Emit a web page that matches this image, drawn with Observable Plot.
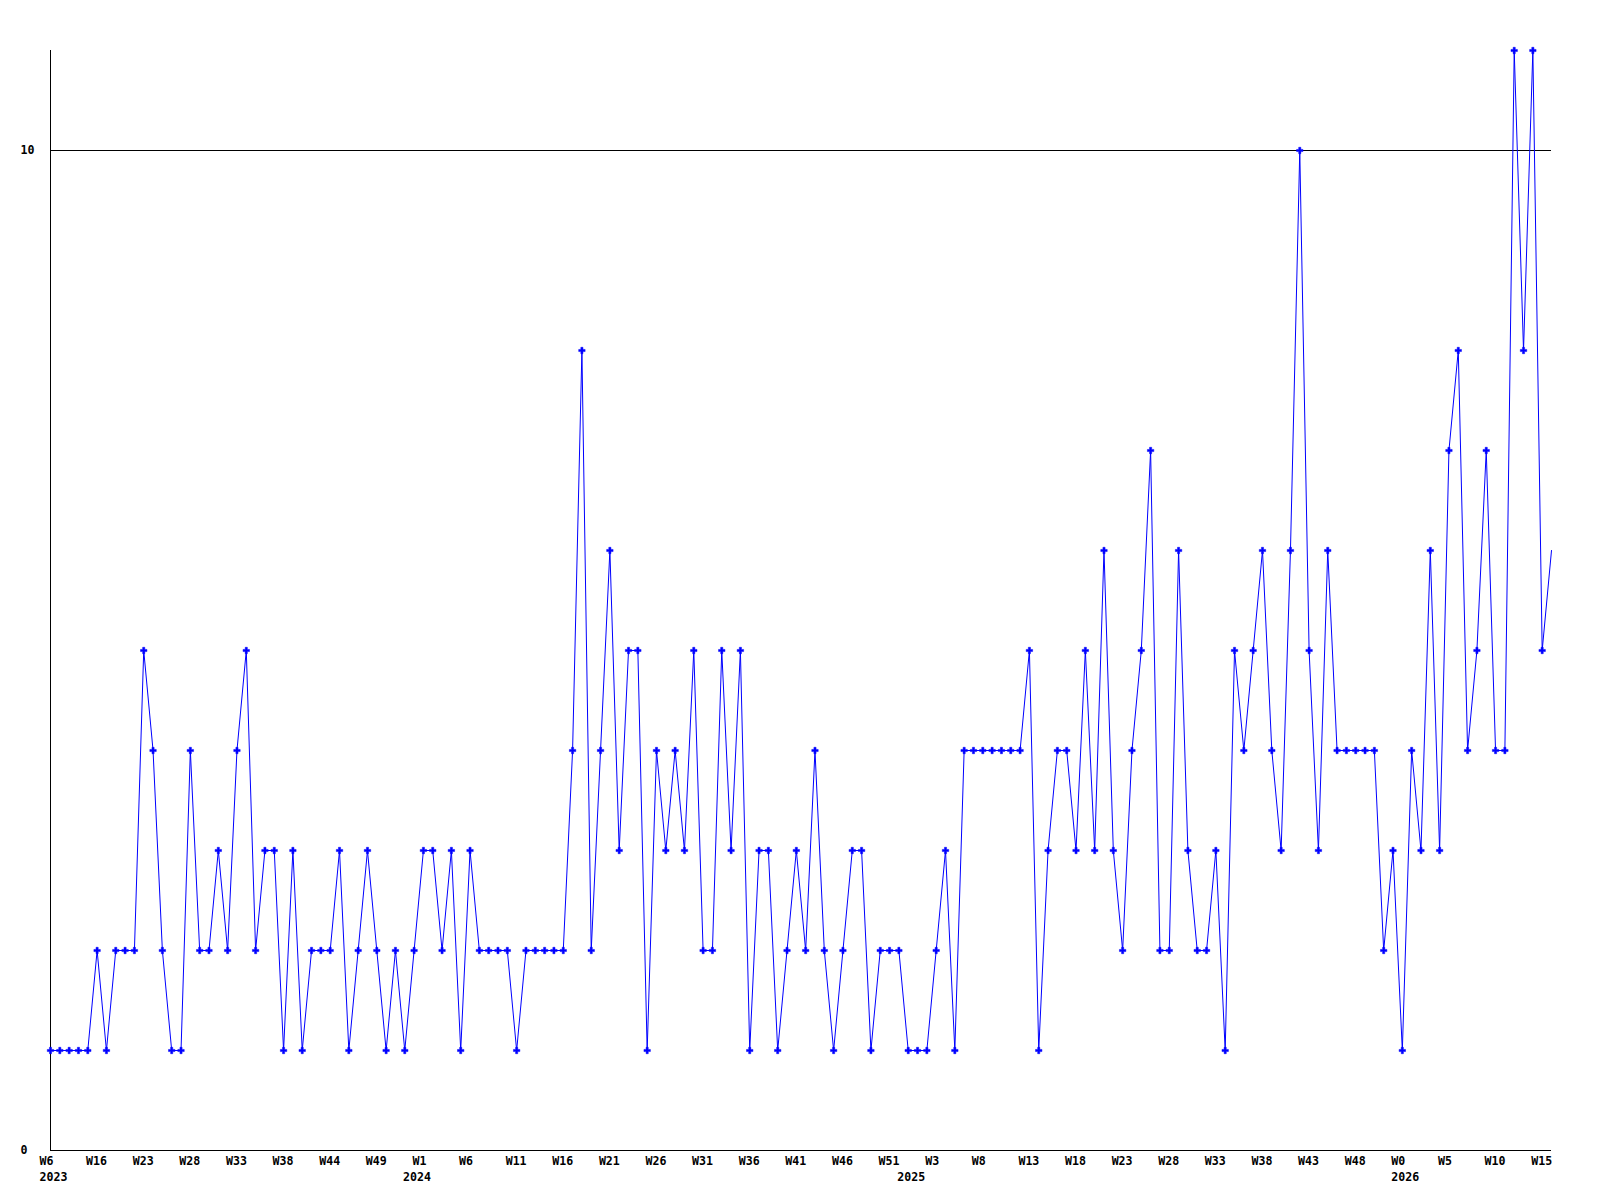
<!DOCTYPE html>
<html>
<head>
<meta charset="utf-8">
<script src="https://cdn.jsdelivr.net/npm/d3@7"></script>
<script src="https://cdn.jsdelivr.net/npm/@observablehq/plot@0.6"></script>
<style>
  html, body { margin: 0; padding: 0; background: #ffffff; }
</style>
</head>
<body>
<div id="chart"></div>
<script>
// Weekly counts (index 0 = W6 2023)
const values = [
  1,1,1,1,1,2,1,2,2,2,
  5,4,2,1,1,4,2,2,3,2,
  4,5,2,3,3,1,3,1,2,2,
  2,3,1,2,3,2,1,2,1,2,
  3,3,2,3,1,3,2,2,2,2,
  1,2,2,2,2,2,4,8,2,4,
  6,3,5,5,1,4,3,4,3,5,
  2,2,5,3,5,1,3,3,1,2,
  3,2,4,2,1,2,3,3,1,2,
  2,2,1,1,1,2,3,1,4,4,
  4,4,4,4,4,5,1,3,4,4,
  3,5,3,6,3,2,4,5,7,2,
  2,6,3,2,2,3,1,5,4,5,
  6,4,3,6,10,5,3,6,4,4,
  4,4,4,2,3,1,4,3,6,3,
  7,8,4,5,7,4,4,11,8,11,
  5,6
];

// X tick labels (one every 5 weeks)
const weekLabels = ["W6","W16","W23","W28","W33","W38","W44","W49","W1","W6","W11",
  "W16","W21","W26","W31","W36","W41","W46","W51","W3","W8","W13","W18","W23",
  "W28","W33","W38","W43","W48","W0","W5","W10","W15"];
const labelStep = 5;

// Year labels and the week index where each year starts
const years = ["2023","2024","2025","2026"];
const yearStart = [0, 39, 92, 145];

// Y tick labels
const yTicks = [0, 10];

const data = values.map((v, i) => ({i, v}));
const ticks = weekLabels.map((t, k) => ({i: k * labelStep, t}));
const yearRows = years.map((y, k) => ({i: yearStart[k], t: y}));

const font = "'DejaVu Sans Mono', monospace";

const chart = Plot.plot({
  width: 1600,
  height: 1200,
  marginLeft: 50,
  marginRight: 49,
  marginTop: 50,
  marginBottom: 50,
  x: {domain: [0, values.length - 1], axis: null},
  y: {domain: [0, 11], axis: null},
  style: {background: "#ffffff", fontFamily: font, fontSize: "11.6px", fontWeight: "bold", overflow: "visible"},
  marks: [
    Plot.ruleY([10], {stroke: "#000000", strokeWidth: 1, shapeRendering: "crispEdges"}),
    Plot.ruleX([0], {stroke: "#000000", strokeWidth: 1, shapeRendering: "crispEdges"}),
    Plot.ruleY([0], {stroke: "#000000", strokeWidth: 1, shapeRendering: "crispEdges"}),
    Plot.line(data, {x: "i", y: "v", stroke: "#0000ff", strokeWidth: 1}),
    Plot.dot(data.slice(0, -1), {x: "i", y: "v", symbol: "cross", r: 2.7, fill: "#0000ff", stroke: "#0000ff", strokeWidth: 0.5}),
    Plot.text(yTicks, {x: () => 0, y: d => d, text: d => String(d), textAnchor: "start", dx: -30, fill: "#000000"}),
    Plot.text(ticks, {x: "i", y: () => 0, text: "t", textAnchor: "start", dx: -11, dy: 11, fill: "#000000"}),
    Plot.text(yearRows, {x: "i", y: () => 0, text: "t", textAnchor: "start", dx: -11, dy: 27, fill: "#000000"})
  ]
});

document.getElementById("chart").appendChild(chart);
</script>
</body>
</html>
